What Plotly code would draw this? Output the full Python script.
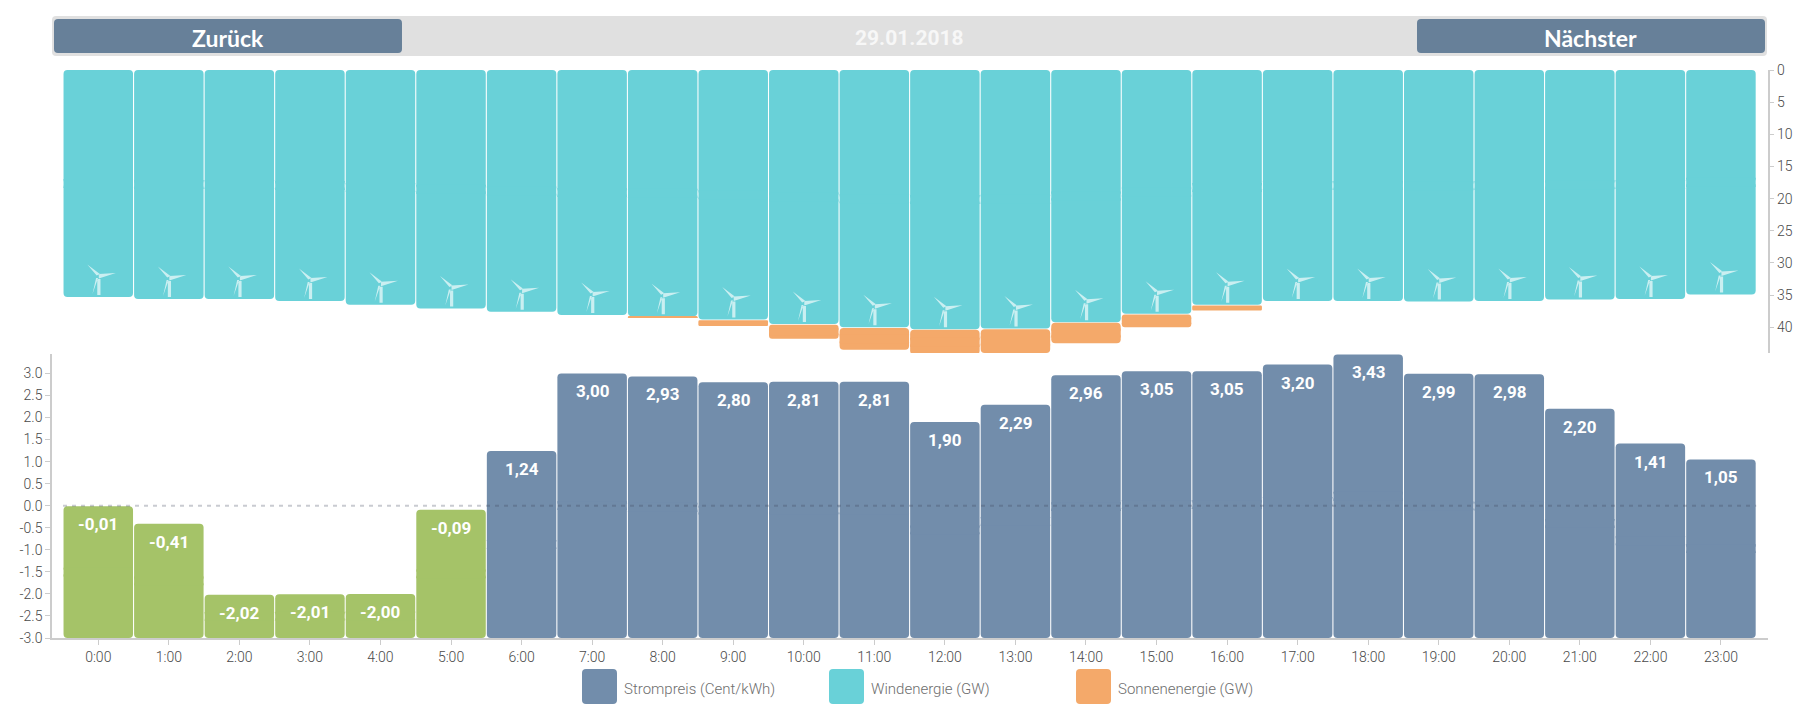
import numpy as np
import plotly.graph_objects as go

# Data
hours = list(range(24))
hour_labels = [f'{h}:00' for h in hours]
price = [-0.01, -0.41, -2.02, -2.01, -2.00, -0.09, 1.24, 3.00, 2.93, 2.80, 2.81, 2.81,
         1.90, 2.29, 2.96, 3.05, 3.05, 3.20, 3.43, 2.99, 2.98, 2.20, 1.41, 1.05]
wind = [35.3, 35.6, 35.6, 35.9, 36.5, 37.1, 37.6, 38.1, 38.3, 38.8, 39.5, 40.0,
        40.3, 40.2, 39.2, 37.9, 36.5, 35.9, 35.9, 36.0, 35.9, 35.7, 35.6, 34.9]
sun = [0, 0, 0, 0, 0, 0, 0, 0, 0.08, 0.9, 2.2, 3.4,
       3.85, 3.7, 3.2, 2.0, 0.8, 0, 0, 0, 0, 0, 0, 0]
price_ticks = [3.0, 2.5, 2.0, 1.5, 1.0, 0.5, 0.0, -0.5, -1.0, -1.5, -2.0, -2.5, -3.0]
price_tick_labels = ['3.0', '2.5', '2.0', '1.5', '1.0', '0.5', '0.0', '-0.5', '-1.0', '-1.5', '-2.0', '-2.5', '-3.0']
wind_ticks = [0, 5, 10, 15, 20, 25, 30, 35, 40]
legend_names = ['Strompreis (Cent/kWh)', 'Windenergie (GW)', 'Sonnenenergie (GW)']

# Colours
BLUE = '#728DAB'
GREEN = '#A5C368'
TEAL = '#69D1D8'
ORANGE = '#F4A96A'
BUTTON = '#678099'
GREY_BAR = '#E0E0E0'
AXIS = '#CCCCCC'

FONT = 'Roboto'

# the page body has an 8px margin, so the figure is 16px smaller than the window
W, H, PAGE = 1804, 709, 8


def px_x(x):
    return (x - PAGE) / W


def px_y(y):
    return 1 - (y - PAGE) / H


def round_rect(x0, y0, x1, y1, r):
    # rounded rectangle in paper coordinates, given in screen pixels
    pts = [('M', x0 + r, y0), ('L', x1 - r, y0), ('Q', x1, y0, x1, y0 + r), ('L', x1, y1 - r),
           ('Q', x1, y1, x1 - r, y1), ('L', x0 + r, y1), ('Q', x0, y1, x0, y1 - r),
           ('L', x0, y0 + r), ('Q', x0, y0, x0 + r, y0)]
    path = ''
    for p in pts:
        coords = [px_x(v) if i % 2 == 0 else px_y(v) for i, v in enumerate(p[1:])]
        path += p[0] + ' '.join(f'{c:.5f}' for c in coords) + ' '
    return path + 'Z'


def paper_box(x0, y0, x1, y1, r, color):
    return dict(type='path', xref='paper', yref='paper', path=round_rect(x0, y0, x1, y1, r),
                fillcolor=color, line=dict(width=0), layer='above')


def add_bars(fig, x, lo, hi, color, yaxis, patch):
    # plotly only rounds the far end of a bar, so each bar is two halves back to back
    # with a small square patch to hide the joint
    lo, hi = np.array(lo, dtype=float), np.array(hi, dtype=float)
    mid = (lo + hi) / 2
    for end in (lo, hi):
        fig.add_trace(go.Bar(x=x, y=end - mid, base=mid, yaxis=yaxis, width=0.985,
                             marker=dict(color=color, cornerradius=4, line=dict(width=0)),
                             showlegend=False, hoverinfo='skip'))
    half = np.minimum((hi - lo) / 4, patch)
    fig.add_trace(go.Bar(x=x, y=2 * half, base=mid - half, yaxis=yaxis, width=0.985,
                         marker=dict(color=color, line=dict(width=0)),
                         showlegend=False, hoverinfo='skip'))


fig = go.Figure()

# wind on top, sun stacked below it with a thin gap
sun_gap = 0.1
add_bars(fig, hours, [0] * 24, wind, TEAL, 'y', 0.7)
sun_hours = [h for h in hours if sun[h] > 0]
add_bars(fig, sun_hours, [wind[h] + sun_gap for h in sun_hours],
         [wind[h] + sun_gap + sun[h] for h in sun_hours], ORANGE, 'y', 0.7)

# price bars all start from the bottom of the axis
price_colors = [GREEN if v < 0 else BLUE for v in price]
add_bars(fig, hours, [-3.0] * 24, price, price_colors, 'y2', 0.1)

# small wind turbine sitting at the end of each wind bar (pixel path, y points up)
TURBINE = ('M-1 2 L-1 18 L2.2 18 L2.2 2 Z '
           'M-1.6 21.5 L-11 32.5 L1.6 23 Z '
           'M0.5 18.5 L0.5 23 L17.5 24 Z '
           'M-2.2 19 L-5.8 3 L-0.2 19 Z')
shapes = []
for h in hours:
    shapes.append(dict(type='path', xref='x', yref='y', xsizemode='pixel', ysizemode='pixel',
                       xanchor=h, yanchor=wind[h], path=TURBINE,
                       fillcolor='rgba(255,255,255,0.65)', line=dict(width=0), layer='above'))

# dashed zero line, runs over the bars too
shapes.append(dict(type='line', xref='x', yref='y2', x0=-0.5, x1=23.5, y0=0, y1=0,
                   line=dict(color='rgba(60,70,90,0.28)', width=2, dash='4px,5px'), layer='above'))

# header strip and buttons
shapes.append(paper_box(52, 16, 1767, 56, 4, GREY_BAR))
shapes.append(paper_box(54, 19, 402, 53, 4, BUTTON))
shapes.append(paper_box(1417, 19, 1765, 53, 4, BUTTON))

# legend swatches
legend_left = [582, 829, 1076]
legend_colors = [BLUE, TEAL, ORANGE]
for left, col in zip(legend_left, legend_colors):
    shapes.append(paper_box(left, 669, left + 35, 704, 4, col))

annotations = [
    dict(text='Zurück', x=px_x(228), y=px_y(38), font=dict(family='Lato', size=23, color='white', weight=700)),
    dict(text='Nächster', x=px_x(1590), y=px_y(38), font=dict(family='Lato', size=23, color='white', weight=700)),
    dict(text='29.01.2018', x=px_x(909), y=px_y(38), font=dict(family=FONT, size=21, color='#F7F7F7', weight=700)),
]
for a in annotations:
    a.update(xref='paper', yref='paper', showarrow=False, xanchor='center', yanchor='middle')
for left, name in zip(legend_left, legend_names):
    annotations.append(dict(text=name, x=px_x(left + 40), y=px_y(689), xref='paper', yref='paper',
                            showarrow=False, xanchor='left', yanchor='middle',
                            font=dict(family=FONT, size=15, color='#6E6E6E', weight=300)))

# value labels inside the top of each price bar
for h in hours:
    annotations.append(dict(text=f'{price[h]:.2f}'.replace('.', ','), x=h, y=price[h], xref='x', yref='y2',
                            yshift=-18, showarrow=False, xanchor='center', yanchor='middle',
                            font=dict(family=FONT, size=17, color='white', weight=700)))

tick_font = dict(family=FONT, size=14, color='#4A4A4A', weight=300)
fig.update_layout(
    width=W, height=H, margin=dict(l=0, r=0, t=0, b=0, pad=0, autoexpand=False),
    plot_bgcolor='white', paper_bgcolor='white', barmode='overlay', showlegend=False,
    shapes=shapes, annotations=annotations,
    xaxis=dict(domain=[px_x(52), px_x(1767.5)], range=[-0.656, 23.66], anchor='y2',
               tickmode='array', tickvals=hours, ticktext=hour_labels, tickfont=tick_font,
               ticks='outside', ticklen=5, tickcolor=AXIS, showline=True, linecolor=AXIS, linewidth=1.5,
               showgrid=False, zeroline=False),
    yaxis=dict(domain=[px_y(353), px_y(70)], range=[44, 0], side='right', anchor='x',
               tickmode='array', tickvals=wind_ticks, tickfont=tick_font,
               ticks='outside', ticklen=5, tickcolor=AXIS, showline=True, linecolor=AXIS, linewidth=1.5,
               showgrid=False, zeroline=False),
    yaxis2=dict(domain=[px_y(638), px_y(354)], range=[-3, 3.44], side='left', anchor='x',
                tickmode='array', tickvals=price_ticks, ticktext=price_tick_labels, tickfont=tick_font,
                ticks='outside', ticklen=5, tickcolor=AXIS, showline=True, linecolor=AXIS, linewidth=1.5,
                showgrid=False, zeroline=False),
)

fig.write_html('out.html')
